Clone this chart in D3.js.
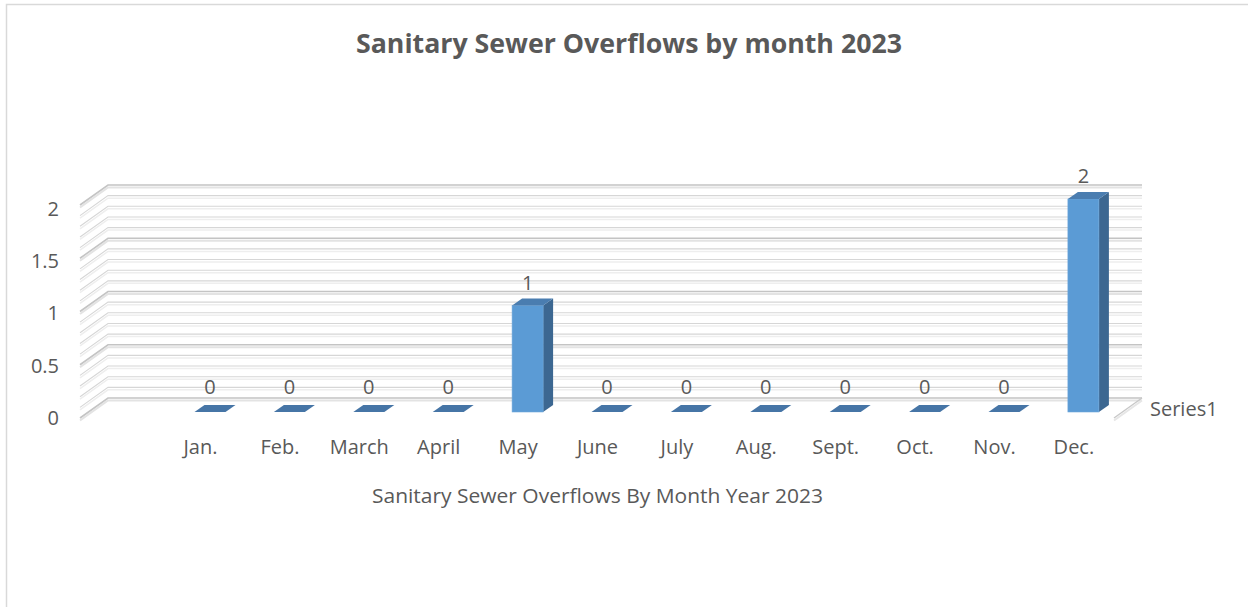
<!DOCTYPE html>
<html>
<head>
<meta charset="utf-8">
<script src="https://cdn.jsdelivr.net/npm/d3@7"></script>
<style>
  html, body { margin: 0; padding: 0; background: #ffffff; }
  svg { display: block; }
  text { font-family: "Open Sans", "Noto Sans", sans-serif; fill: #595959; }
</style>
</head>
<body>
<svg id="chart" width="1248" height="607"></svg>
<script>
// Monthly sanitary sewer overflow counts, 2023
const months = ["Jan.", "Feb.", "March", "April", "May", "June", "July", "Aug.", "Sept.", "Oct.", "Nov.", "Dec."];
const overflows = [0, 0, 0, 0, 1, 0, 0, 0, 0, 0, 0, 2];
const yTickValues = [0, 0.5, 1, 1.5, 2];
const seriesName = "Series1";
const chartTitle = "Sanitary Sewer Overflows by month 2023";
const axisTitle = "Sanitary Sewer Overflows By Month Year 2023";

const svg = d3.select("#chart");
const labelSize = "20px";

// Oblique 3D layout: back wall, depth offset, bar geometry
const wall = { left: 108, right: 1142 };
const depth = { dx: -28, dy: 20 };          // back wall -> front edge
const barDepth = { dx: 10, dy: -7 };        // front face -> back face of a column
const barWidth = 31;

const x = d3.scalePoint().domain(months).range([200, 1073.4]);
const yWall = d3.scaleLinear().domain([0, 2]).range([398, 185]);
const yBar = d3.scaleLinear().domain([0, 2]).range([412, 199]);
const yLabel = d3.scaleLinear().domain([0, 2]).range([418, 209]);

// Outer chart border
svg.append("path")
  .attr("d", "M6.5,700 L6.5,4.5 L1300,4.5")
  .attr("fill", "none")
  .attr("stroke", "#d9d9d9")
  .attr("stroke-width", 1.5);

// Title
svg.append("text")
  .attr("x", 356).attr("y", 53)
  .attr("textLength", 546)
  .attr("lengthAdjust", "spacingAndGlyphs")
  .style("font-size", "27px")
  .style("font-weight", "700")
  .text(chartTitle);

// Wall gridlines (back wall + left side wall), drawn with a soft bevel underline
const grid = svg.append("g").attr("class", "grid");
const gridValues = yWall.ticks(20);
gridValues.forEach(v => {
  const major = Math.abs(v * 2 - Math.round(v * 2)) < 1e-6;
  const yb = yWall(v);
  const pts = [[wall.left + depth.dx, yb + depth.dy], [wall.left, yb], [wall.right, yb]];
  const line = d3.line();
  grid.append("path")
    .attr("d", line(pts.map(p => [p[0], p[1] + 2.5])))
    .attr("fill", "none")
    .attr("stroke", major ? "#e3e3e3" : "#eeeeee")
    .attr("stroke-width", major ? 2 : 1.5);
  grid.append("path")
    .attr("d", line(pts))
    .attr("fill", "none")
    .attr("stroke", major ? "#c4c4c4" : "#d6d6d6")
    .attr("stroke-width", major ? 1.6 : 1.1);
});

// Right floor edge (depth axis line)
const floorEdge = [[wall.right + depth.dx, yWall(0) + depth.dy], [wall.right, yWall(0)]];
svg.append("path")
  .attr("d", d3.line()(floorEdge.map(p => [p[0], p[1] + 2.5])))
  .attr("stroke", "#e6e6e6").attr("stroke-width", 2).attr("fill", "none");
svg.append("path")
  .attr("d", d3.line()(floorEdge))
  .attr("stroke", "#c8c8c8").attr("stroke-width", 1.4).attr("fill", "none");

// Y axis labels
const yAxis = d3.axisLeft(yLabel)
  .tickValues(yTickValues)
  .tickFormat(d3.format("~g"))
  .tickSize(0)
  .tickPadding(0);
const yAxisG = svg.append("g")
  .attr("transform", "translate(59,0)")
  .call(yAxis);
yAxisG.select(".domain").remove();
yAxisG.selectAll("text")
  .style("font-size", labelSize)
  .style("font-family", "\"Open Sans\", sans-serif")
  .attr("fill", "#595959");

// Category labels
const xAxis = d3.axisBottom(x).tickSize(0).tickPadding(0);
const xAxisG = svg.append("g")
  .attr("transform", "translate(0,440)")
  .call(xAxis);
xAxisG.select(".domain").remove();
xAxisG.selectAll("text")
  .style("font-size", labelSize)
  .style("font-family", "\"Open Sans\", sans-serif")
  .attr("fill", "#595959");

// 3D columns
const bars = svg.append("g").attr("class", "bars")
  .selectAll("g")
  .data(months.map((m, i) => ({ month: m, value: overflows[i] })))
  .join("g");

bars.each(function(d) {
  const g = d3.select(this);
  const cx = x(d.month) + 10;
  const x0 = cx - barWidth / 2, x1 = cx + barWidth / 2;
  const yb = yBar(0), yt = yBar(d.value);
  const dx = barDepth.dx, dy = barDepth.dy;
  if (d.value > 0) {
    // side face
    g.append("path")
      .attr("d", `M${x1},${yt} L${x1 + dx},${yt + dy} L${x1 + dx},${yb + dy} L${x1},${yb} Z`)
      .attr("fill", "#3c6791");
    // front face
    g.append("rect")
      .attr("x", x0).attr("y", yt)
      .attr("width", barWidth).attr("height", yb - yt)
      .attr("fill", "#5b9bd5")
      .attr("stroke", "#6fa7da").attr("stroke-width", 0.6);
  }
  // top face
  g.append("path")
    .attr("d", `M${x0},${yt} L${x0 + dx},${yt + dy} L${x1 + dx},${yt + dy} L${x1},${yt} Z`)
    .attr("fill", d.value > 0 ? "#4a7db0" : "#4675a6");
  // value label
  g.append("text")
    .attr("x", cx)
    .attr("y", yt + dy - (d.value > 0 ? 9 : 11))
    .attr("text-anchor", "middle")
    .style("font-size", labelSize)
    .text(d.value);
});

// Series name on the depth axis
svg.append("text")
  .attr("x", 1150).attr("y", 416)
  .style("font-size", labelSize)
  .text(seriesName);

// Category axis title
svg.append("text")
  .attr("x", 372).attr("y", 503)
  .attr("textLength", 451)
  .attr("lengthAdjust", "spacingAndGlyphs")
  .style("font-size", labelSize)
  .text(axisTitle);
</script>
</body>
</html>
